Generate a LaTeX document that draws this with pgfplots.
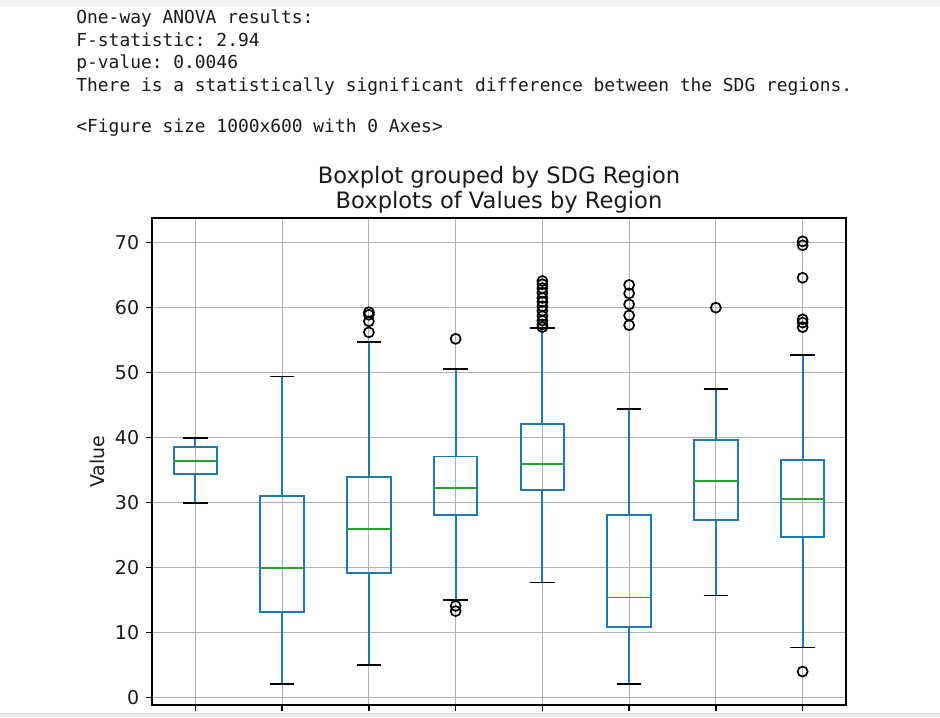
\documentclass[border=0pt]{standalone}
\usepackage{pgfplots}
\pgfplotsset{compat=1.18}
\usepgfplotslibrary{statistics}
\usepackage{fontspec}
\setmainfont{DejaVu Sans}
\setmonofont{DejaVu Sans Mono}
\definecolor{c0}{HTML}{1F77B4}
\definecolor{c2}{HTML}{2CA02C}
\definecolor{gridc}{HTML}{B0B0B0}
\definecolor{txt}{HTML}{1A1A1A}

\pgfplotsset{
  mybox/.style={
    c0, line width=0.95pt,
    mark=o, mark size=2.5pt,
    mark options={black, line width=0.85pt, solid},
    boxplot/draw direction=y,
    boxplot/box extend=0.5,
    boxplot/whisker extend=0.28,
    boxplot/every box/.style={draw=c0, line width=0.95pt},
    boxplot/every median/.style={draw=c2, line width=0.95pt},
    boxplot/draw/lower whisker/.code={%
      \draw[c0, line width=0.95pt] (boxplot box cs:\pgfplotsboxplotvalue{lower quartile},0.5) -- (boxplot box cs:\pgfplotsboxplotvalue{lower whisker},0.5);
      \draw[black, line width=0.95pt] (boxplot whisker cs:\pgfplotsboxplotvalue{lower whisker},0) -- (boxplot whisker cs:\pgfplotsboxplotvalue{lower whisker},1);
    },
    boxplot/draw/upper whisker/.code={%
      \draw[c0, line width=0.95pt] (boxplot box cs:\pgfplotsboxplotvalue{upper quartile},0.5) -- (boxplot box cs:\pgfplotsboxplotvalue{upper whisker},0.5);
      \draw[black, line width=0.95pt] (boxplot whisker cs:\pgfplotsboxplotvalue{upper whisker},0) -- (boxplot whisker cs:\pgfplotsboxplotvalue{upper whisker},1);
    },
  }
}

\begin{document}
\begin{tikzpicture}
\useasboundingbox (0pt,0pt) rectangle (470pt,358.5pt);
\begin{scope}[x=0.5pt,y=0.5pt]
\fill[white] (0,0) rectangle (940,717);
\fill[black!5] (0,710) rectangle (940,717);
\fill[black!7] (0,0) rectangle (940,4);
\draw[black!15, line width=0.5pt] (0,4) -- (940,4);
\begin{scope}[every node/.style={anchor=base west, inner sep=0pt, text=txt, font=\ttfamily\fontsize{8.95}{10}\selectfont}]
\node at (76,693) {One-way ANOVA results:};
\node at (76,670) {F-statistic: 2.94};
\node at (76,648) {p-value: 0.0046};
\node at (76,625) {There is a statistically significant difference between the SDG regions.};
\node at (76,584) {<Figure size 1000x600 with 0 Axes>};
\end{scope}
\end{scope}

\begin{axis}[
  at={(76pt,6pt)}, anchor=south west,
  scale only axis, width=347pt, height=243.5pt,
  xmin=0.5, xmax=8.5, ymin=-1.15, ymax=73.8,
  xtick={1,2,3,4,5,6,7,8}, xticklabel=\empty,
  ytick={0,10,20,30,40,50,60,70},
  xtick pos=bottom, ytick pos=left,
  grid=major, grid style={gridc, line width=0.6pt},
  tick align=outside, major tick length=2.9pt,
  tick style={black, line width=0.67pt},
  axis line style={black, line width=0.67pt},
  /pgf/number format/assume math mode=true,
  ticklabel style={font=\fontsize{9.5}{11}\selectfont, text=txt},
  ylabel={Value},
  ylabel style={at={(axis description cs:-0.0793,0.5)}, anchor=center, font=\fontsize{9.5}{11}\selectfont, text=txt},
  title={Boxplot grouped by SDG Region\\Boxplots of Values by Region},
  title style={at={(axis description cs:0.5,1)}, anchor=south, align=center, inner sep=0pt, yshift=-3.9pt,
    font=\fontsize{11.3}{12.5}\selectfont, text=txt},
]
\addplot[mybox, boxplot prepared={draw position=1, lower whisker=30.0, lower quartile=34.4, median=36.4, upper quartile=38.6, upper whisker=40.0}] coordinates {};
\addplot[mybox, boxplot prepared={draw position=2, lower whisker=2.1, lower quartile=13.1, median=19.9, upper quartile=31.0, upper whisker=49.4}] coordinates {};
\addplot[mybox, boxplot prepared={draw position=3, lower whisker=5.0, lower quartile=19.2, median=25.9, upper quartile=33.9, upper whisker=54.7}] coordinates {(3,56.2) (3,57.9) (3,58.9) (3,59.3)};
\addplot[mybox, boxplot prepared={draw position=4, lower whisker=15.0, lower quartile=28.1, median=32.3, upper quartile=37.1, upper whisker=50.6}] coordinates {(4,55.2) (4,14.1) (4,13.3)};
\addplot[mybox, boxplot prepared={draw position=5, lower whisker=17.7, lower quartile=32.0, median=36.0, upper quartile=42.1, upper whisker=56.9}] coordinates {(5,57.0) (5,57.4) (5,58.0) (5,58.7) (5,59.5) (5,60.2) (5,60.9) (5,61.5) (5,62.3) (5,63.0) (5,63.6) (5,64.1)};
\addplot[mybox, boxplot prepared={draw position=6, lower whisker=2.1, lower quartile=10.8, median=15.4, upper quartile=28.1, upper whisker=44.4}] coordinates {(6,57.3) (6,58.8) (6,60.5) (6,62.2) (6,63.5)};
\addplot[mybox, boxplot prepared={draw position=7, lower whisker=15.7, lower quartile=27.3, median=33.3, upper quartile=39.6, upper whisker=47.5}] coordinates {(7,60.0)};
\addplot[mybox, boxplot prepared={draw position=8, lower whisker=7.7, lower quartile=24.7, median=30.6, upper quartile=36.6, upper whisker=52.7}] coordinates {(8,70.2) (8,69.6) (8,64.6) (8,58.2) (8,57.7) (8,57.0) (8,4.0)};
\end{axis}
\end{tikzpicture}
\end{document}
